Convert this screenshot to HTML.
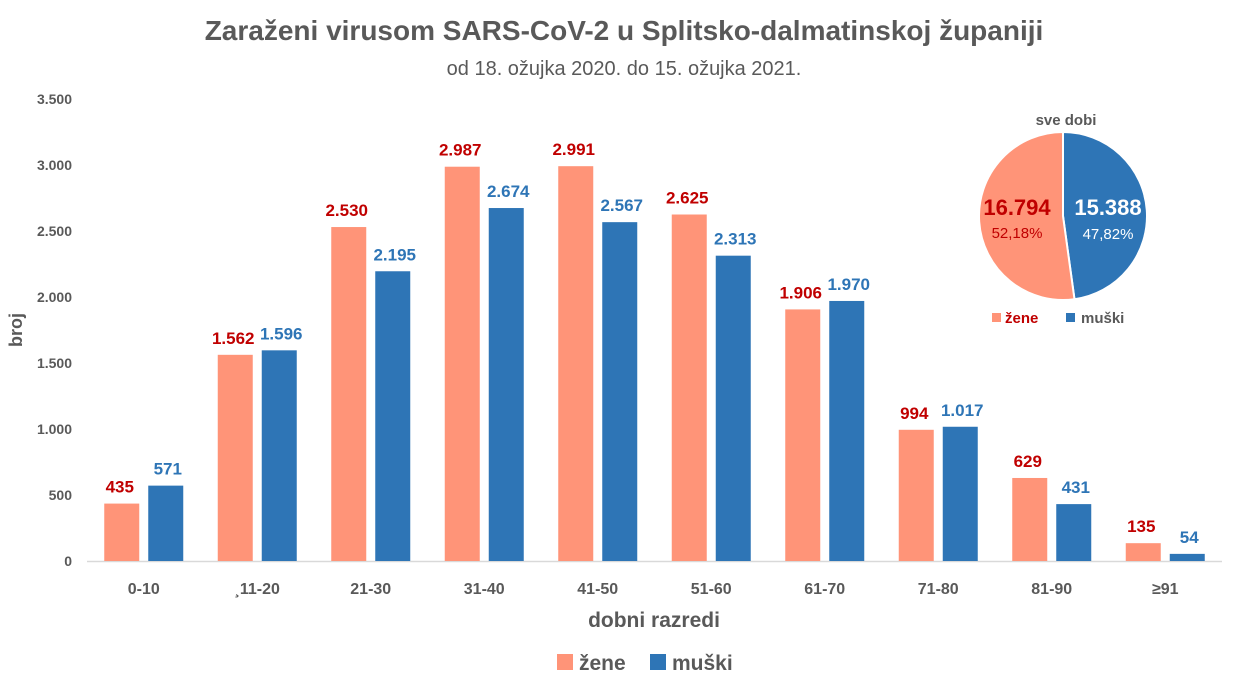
<!DOCTYPE html>
<html><head><meta charset="utf-8"><style>
body{margin:0;background:#fff}
svg{display:block;font-family:"Liberation Sans",sans-serif}
</style></head><body>
<svg id="c" width="1234" height="681" viewBox="0 0 1234 681">
<text x="624" y="40" text-anchor="middle" font-size="28" font-weight="bold" fill="#595959">Zaraženi virusom SARS-CoV-2 u Splitsko-dalmatinskoj županiji</text>
<text x="624" y="75" text-anchor="middle" font-size="20" fill="#595959">od 18. ožujka 2020. do 15. ožujka 2021.</text>
<text transform="translate(22,330) rotate(-90)" text-anchor="middle" font-size="18" font-weight="bold" fill="#595959">broj</text>
<text x="654" y="627" text-anchor="middle" font-size="21" font-weight="bold" fill="#595959">dobni razredi</text>
<g>
<rect x="557" y="654" width="16" height="16" fill="#FF9478"/>
<text x="579" y="670" font-size="21" font-weight="bold" fill="#595959">žene</text>
<rect x="650" y="654" width="16" height="16" fill="#2E75B6"/>
<text x="672" y="670" font-size="21" font-weight="bold" fill="#595959">muški</text>
</g>
<g id="plot"></g>
<g id="pie"></g>
</svg>
<script>
const categories=["0-10","\u00b811-20","21-30","31-40","41-50","51-60","61-70","71-80","81-90","\u226591"];
const zene=[435,1562,2530,2987,2991,2625,1906,994,629,135];
const muski=[571,1596,2195,2674,2567,2313,1970,1017,431,54];
const yTicks=[0,500,1000,1500,2000,2500,3000,3500];
const pieValues=[16794,15388];
const pieLabels=["16.794","15.388"];
const piePercents=["52,18%","47,82%"];
const NS="http://www.w3.org/2000/svg";
const x0=87,x1=1222,y0=561,pxPer=(561-99)/3500;
const step=(x1-x0)/categories.length;
const Y=v=>y0-v*pxPer;
const X=i=>x0+step*(i+0.5);
const fmt=v=>v>=1000?Math.floor(v/1000)+"."+String(v%1000).padStart(3,"0"):String(v);
function mk(t,a,p){const e=document.createElementNS(NS,t);for(const k in a)e.setAttribute(k,a[k]);(p||document.getElementById('plot')).appendChild(e);return e;}
yTicks.forEach(t=>{const e=mk('text',{x:72,y:Y(t)+5,'text-anchor':'end','font-size':14,'font-weight':'bold',fill:'#595959'});e.textContent=fmt(t);

});
const ax=mk('line',{x1:x0,x2:x1,y1:y0+0.5,y2:y0+0.5,stroke:'#d9d9d9','stroke-width':1.5});


const bw=35,gap=9;
categories.forEach((c,i)=>{
 const cx=X(i);
 const bz=mk('rect',{x:cx-gap/2-bw,y:Y(zene[i]),width:bw,height:zene[i]*pxPer,fill:'#FF9478'});
 
 
 const bm=mk('rect',{x:cx+gap/2,y:Y(muski[i]),width:bw,height:muski[i]*pxPer,fill:'#2E75B6'});
 
 
 const lz=mk('text',{x:cx-gap/2-bw/2-2,y:Y(zene[i])-11,'text-anchor':'middle','font-size':17,'font-weight':'bold',fill:'#C00000'});lz.textContent=fmt(zene[i]);
 
 
 const lm=mk('text',{x:cx+gap/2+bw/2+2,y:Y(muski[i])-11,'text-anchor':'middle','font-size':17,'font-weight':'bold',fill:'#2E75B6'});lm.textContent=fmt(muski[i]);
 
 
 const xl=mk('text',{x:cx,y:594,'text-anchor':'middle','font-size':16,'font-weight':'bold',fill:'#595959'});xl.textContent=c;
 
 
});
const pg=document.getElementById('pie');
const pcx=1063,pcy=216,r=84,tot=pieValues[0]+pieValues[1];
const fracM=pieValues[1]/tot;
const a=fracM*2*Math.PI;
const ex=pcx+r*Math.sin(a),ey=pcy-r*Math.cos(a);
const sm=mk('path',{d:`M${pcx},${pcy} L${pcx},${pcy-r} A${r},${r} 0 0 1 ${ex},${ey} Z`,fill:'#2E75B6',stroke:'#fff','stroke-width':2},pg);


const sz=mk('path',{d:`M${pcx},${pcy} L${ex},${ey} A${r},${r} 0 1 1 ${pcx},${pcy-r} Z`,fill:'#FF9478',stroke:'#fff','stroke-width':2},pg);


const t=mk('text',{x:1066,y:125,'text-anchor':'middle','font-size':15,'font-weight':'bold',fill:'#595959'},pg);t.textContent='sve dobi';


const p1=mk('text',{x:1017,y:215,'text-anchor':'middle','font-size':22,'font-weight':'bold',fill:'#C00000'},pg);p1.textContent=pieLabels[0];


const p2=mk('text',{x:1017,y:238,'text-anchor':'middle','font-size':15,fill:'#C00000'},pg);p2.textContent=piePercents[0];


const p3=mk('text',{x:1108,y:215,'text-anchor':'middle','font-size':22,'font-weight':'bold',fill:'#fff'},pg);p3.textContent=pieLabels[1];


const p4=mk('text',{x:1108,y:239,'text-anchor':'middle','font-size':15,fill:'#fff'},pg);p4.textContent=piePercents[1];


const r1=mk('rect',{x:992,y:313,width:9,height:9,fill:'#FF9478'},pg);


const l1=mk('text',{x:1005,y:323,'font-size':15,'font-weight':'bold',fill:'#C00000'},pg);l1.textContent='žene';


const r2=mk('rect',{x:1066,y:313,width:9,height:9,fill:'#2E75B6'},pg);


const l2=mk('text',{x:1081,y:323,'font-size':15,'font-weight':'bold',fill:'#595959'},pg);l2.textContent='muški';


</script>
</body></html>
